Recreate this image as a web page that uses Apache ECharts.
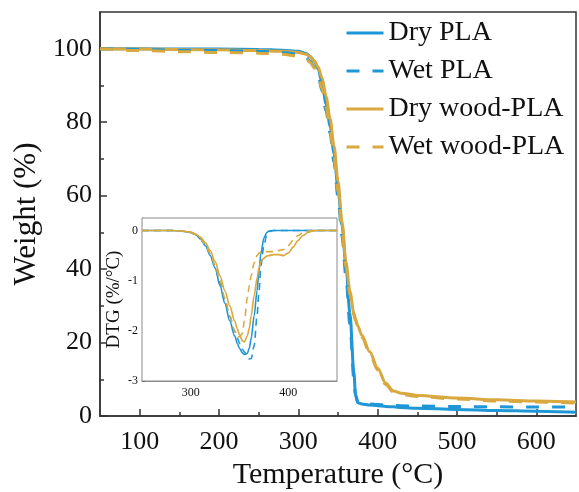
<!DOCTYPE html>
<html>
<head>
<meta charset="utf-8">
<script src="https://cdn.jsdelivr.net/npm/echarts@6/dist/echarts.min.js"></script>
<style>
  html, body { margin: 0; padding: 0; background: #fff; }
  #chart { width: 579px; height: 492px; }
</style>
</head>
<body>
<div id="chart"></div>
<script>
// TGA: weight remaining (%) vs temperature (°C)
const tgaTemp = [50, 100, 150, 200, 250, 280, 300, 310, 315, 320, 325, 330, 335, 340, 345, 350, 355, 360, 365, 370, 372, 375, 380, 390, 400, 410, 420, 430, 450, 500, 550, 600, 650];
const dryPLA = [100, 100, 99.9, 99.9, 99.8, 99.6, 99.3, 98.7, 97.9, 96.6, 94.5, 90.5, 85, 79, 71.5, 62, 52, 41, 28, 12, 6, 3.6, 3.3, 3.0, 2.8, 2.6, 2.5, 2.3, 2.1, 1.8, 1.5, 1.3, 1.0];
const wetPLA = [100, 99.8, 99.6, 99.5, 99.3, 99.0, 98.5, 97.6, 96.6, 95, 92.5, 88.5, 83, 77, 69, 59.5, 49, 38, 25, 10, 5.5, 3.8, 3.5, 3.3, 3.1, 3.0, 2.9, 2.8, 2.7, 2.6, 2.5, 2.45, 2.4];
const dryWoodPLA = [100, 99.9, 99.8, 99.7, 99.5, 99.3, 99.0, 98.5, 97.8, 96.7, 95, 92, 87, 81, 73.5, 64, 53, 42, 34, 28, 26.5, 24.5, 22, 17.5, 13, 9, 6.8, 6.2, 5.6, 4.9, 4.4, 4.1, 3.8];
const wetWoodPLA = [100, 99.5, 99.2, 99.0, 98.8, 98.5, 98, 97.2, 96.3, 94.8, 92.5, 89, 84, 78, 70.5, 61, 50.5, 40.5, 33, 27.5, 26, 24, 21.5, 17, 12.5, 8.6, 6.5, 5.9, 5.3, 4.6, 4.1, 3.8, 3.5];

// DTG inset: derivative weight (%/°C)
const dtgTemp = [250, 270, 280, 290, 300, 305, 310, 315, 320, 325, 330, 335, 340, 345, 348, 350, 353, 355, 358, 360, 362, 365, 368, 370, 372, 375, 378, 380, 385, 390, 395, 400, 405, 410, 415, 420, 425, 430, 440, 450];
const dtgDryPLA = [0, 0, 0, -0.01, -0.04, -0.08, -0.17, -0.3, -0.5, -0.75, -1.1, -1.45, -1.8, -2.1, -2.26, -2.35, -2.44, -2.47, -2.45, -2.35, -2.15, -1.7, -1.2, -0.8, -0.45, -0.15, -0.04, -0.01, 0, 0, 0, 0, 0, 0, 0, 0, 0, 0, 0, 0];
const dtgWetPLA = [0, 0, 0, -0.01, -0.04, -0.08, -0.16, -0.28, -0.47, -0.72, -1.05, -1.4, -1.72, -2.0, -2.15, -2.25, -2.37, -2.42, -2.52, -2.56, -2.55, -2.3, -1.7, -1.2, -0.7, -0.3, -0.08, -0.02, 0, 0, 0, 0, 0, 0, 0, 0, 0, 0, 0, 0];
const dtgDryWoodPLA = [0, 0, 0, -0.01, -0.03, -0.07, -0.13, -0.24, -0.4, -0.62, -0.9, -1.2, -1.5, -1.8, -1.97, -2.08, -2.2, -2.22, -2.1, -1.95, -1.7, -1.3, -0.95, -0.75, -0.62, -0.55, -0.51, -0.5, -0.48, -0.48, -0.5, -0.45, -0.33, -0.2, -0.1, -0.04, -0.01, 0, 0, 0];
const dtgWetWoodPLA = [0, 0, 0, -0.01, -0.04, -0.08, -0.16, -0.28, -0.46, -0.7, -1.0, -1.35, -1.7, -2.0, -2.12, -2.12, -2.05, -1.8, -1.35, -1.1, -0.9, -0.65, -0.5, -0.45, -0.43, -0.42, -0.42, -0.42, -0.42, -0.4, -0.38, -0.3, -0.2, -0.1, -0.04, -0.01, 0, 0, 0, 0];

const seriesNames = ['Dry PLA', 'Wet PLA', 'Dry wood-PLA', 'Wet wood-PLA'];
const xMajorTicks = [100, 200, 300, 400, 500, 600];
const xMinorTicks = [150, 250, 350, 450, 550];
const yMajorTicks = [0, 20, 40, 60, 80, 100];
const yMinorTicks = [10, 30, 50, 70, 90];
const insetXTicks = [300, 400];
const insetYTicks = [-3, -2, -1, 0];

const BLUE = '#1f96d6';
const GOLD = '#d9a83e';
const SERIF = '"Liberation Serif", "DejaVu Serif", serif';
const MAIN_DASH = [13, 13];
const INSET_DASH = [7, 5];

const pair = (xs, ys) => xs.map((x, i) => [x, ys[i]]);

const tgaSets = [dryPLA, wetPLA, dryWoodPLA, wetWoodPLA];
const dtgSets = [dtgDryPLA, dtgWetPLA, dtgDryWoodPLA, dtgWetWoodPLA];
const colors = [BLUE, BLUE, GOLD, GOLD];
const dashed = [false, true, false, true];

const series = [];
tgaSets.forEach((vals, i) => {
  series.push({
    name: seriesNames[i], type: 'line', xAxisIndex: 0, yAxisIndex: 0,
    data: pair(tgaTemp, vals), showSymbol: false, symbol: 'none',
    smooth: 0.3, smoothMonotone: 'x', z: 3 + (dashed[i] ? 1 : 0),
    color: colors[i],
    lineStyle: { color: colors[i], width: 3, type: dashed[i] ? MAIN_DASH : 'solid' }
  });
});
dtgSets.forEach((vals, i) => {
  series.push({
    name: seriesNames[i], type: 'line', xAxisIndex: 2, yAxisIndex: 2,
    data: pair(dtgTemp, vals), showSymbol: false, symbol: 'none',
    smooth: 0.3, smoothMonotone: 'x', z: 6,
    color: colors[i],
    lineStyle: { color: colors[i], width: 1.6, type: dashed[i] ? INSET_DASH : 'solid' }
  });
});

const labelText = { color: '#111', fontFamily: SERIF };

const option = {
  animation: false,
  backgroundColor: '#fff',
  grid: [
    { left: 100, top: 12, right: 3, bottom: 76, outerBoundsMode: 'none', containLabel: false,
      show: true, borderColor: '#333', borderWidth: 1.5, backgroundColor: 'transparent' },
    { left: 142, top: 218, width: 195, height: 163, outerBoundsMode: 'none', containLabel: false,
      show: true, borderColor: '#8a8a8a', borderWidth: 1, backgroundColor: '#fff', z: 5 }
  ],
  legend: {
    data: seriesNames.map((n, i) => ({
      name: n,
      itemStyle: { opacity: 0 },
      lineStyle: { color: colors[i], width: 3, type: dashed[i] ? MAIN_DASH : 'solid' }
    })),
    orient: 'vertical', left: 345, top: 19, padding: 0, itemGap: 10,
    itemWidth: 37, itemHeight: 14,
    textStyle: { fontSize: 28, fontFamily: SERIF, color: '#111', lineHeight: 28, padding: [0, 0, 0, 0] }
  },
  xAxis: [
    {
      gridIndex: 0, type: 'value', min: 50, max: 650, position: 'bottom',
      name: 'Temperature (°C)', nameLocation: 'middle', nameGap: 33,
      nameTextStyle: { fontSize: 30, fontFamily: SERIF, color: '#111' },
      axisLine: { show: true, onZero: false, lineStyle: { color: '#333', width: 1.5 } },
      axisTick: { show: true, inside: true, length: 7, customValues: xMajorTicks, lineStyle: { color: '#333', width: 1.5 } },
      axisLabel: { ...labelText, fontSize: 26, margin: 13, customValues: xMajorTicks },
      splitLine: { show: false }
    },
    {
      gridIndex: 0, type: 'value', min: 50, max: 650, position: 'bottom', offset: 0,
      axisLine: { show: false },
      axisTick: { show: true, inside: true, length: 4, customValues: xMinorTicks, lineStyle: { color: '#333', width: 1.5 } },
      axisLabel: { show: false },
      splitLine: { show: false }
    },
    {
      gridIndex: 1, type: 'value', min: 250, max: 450,
      axisLine: { show: true, onZero: false, lineStyle: { color: '#8a8a8a', width: 1 } },
      axisTick: { show: true, inside: true, length: 3, customValues: insetXTicks, lineStyle: { color: '#555' } },
      axisLabel: { ...labelText, fontSize: 12, margin: 6, customValues: insetXTicks },
      splitLine: { show: false }
    }
  ],
  yAxis: [
    {
      gridIndex: 0, type: 'value', min: 0, max: 110, position: 'left',
      name: 'Weight (%)', nameLocation: 'middle', nameGap: 56, nameRotate: 90,
      nameTextStyle: { fontSize: 31, fontFamily: SERIF, color: '#111' },
      axisLine: { show: true, onZero: false, lineStyle: { color: '#333', width: 1.5 } },
      axisTick: { show: true, inside: true, length: 7, customValues: yMajorTicks, lineStyle: { color: '#333', width: 1.5 } },
      axisLabel: { ...labelText, fontSize: 26, margin: 8, customValues: yMajorTicks },
      splitLine: { show: false }
    },
    {
      gridIndex: 0, type: 'value', min: 0, max: 110, position: 'left', offset: 0,
      axisLine: { show: false },
      axisTick: { show: true, inside: true, length: 4, customValues: yMinorTicks, lineStyle: { color: '#333', width: 1.5 } },
      axisLabel: { show: false },
      splitLine: { show: false }
    },
    {
      gridIndex: 1, type: 'value', min: -3, max: 0.25,
      name: 'DTG (%/°C)', nameLocation: 'middle', nameGap: 18, nameRotate: 90,
      nameTextStyle: { fontSize: 19, fontFamily: SERIF, color: '#111' },
      axisLine: { show: true, onZero: false, lineStyle: { color: '#8a8a8a', width: 1 } },
      axisTick: { show: true, inside: true, length: 3, customValues: insetYTicks, lineStyle: { color: '#555' } },
      axisLabel: { ...labelText, fontSize: 12, margin: 4, customValues: insetYTicks },
      splitLine: { show: false }
    }
  ],
  series: series
};

const chart = echarts.init(document.getElementById('chart'), null, { renderer: 'canvas' });
chart.setOption(option);
</script>
</body>
</html>
